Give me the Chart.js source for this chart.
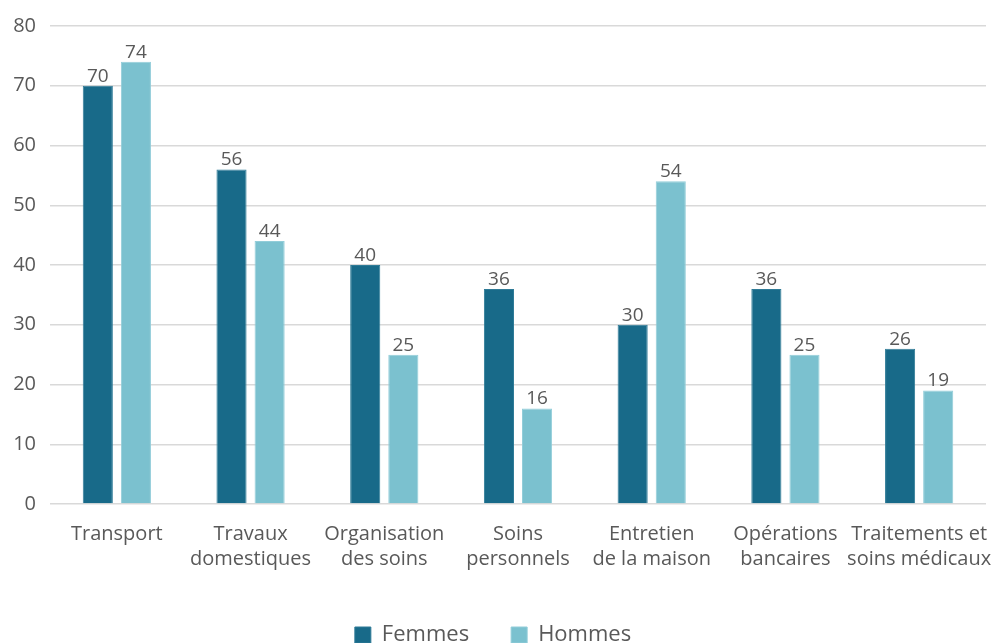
<!DOCTYPE html>
<html lang="fr">
<head>
<meta charset="utf-8">
<title>Tâches par sexe</title>
<script src="https://cdn.jsdelivr.net/npm/chart.js@4/dist/chart.umd.min.js"></script>
<style>
  html, body { margin: 0; padding: 0; background: #ffffff; overflow: hidden; }
  #wrap { position: relative; width: 1000px; height: 656px; }
</style>
</head>
<body>
<div id="wrap"><canvas id="chart"></canvas></div>
<script>
// Catégories (libellés sur deux lignes)
const categories = [
  ["Transport"],
  ["Travaux", "domestiques"],
  ["Organisation", "des soins"],
  ["Soins", "personnels"],
  ["Entretien", "de la maison"],
  ["Opérations", "bancaires"],
  ["Traitements et", "soins médicaux"]
];
const femmes = [70, 56, 40, 36, 30, 36, 26];
const hommes = [74, 44, 25, 16, 54, 25, 19];
const yTicks = [0, 10, 20, 30, 40, 50, 60, 70, 80];

const FONT = "'Open Sans', 'Noto Sans', sans-serif";
const TEXT = "#595959";

// Étiquettes de valeur au-dessus des barres
const valueLabels = {
  id: "valueLabels",
  afterDatasetsDraw(chart) {
    const ctx = chart.ctx;
    ctx.save();
    ctx.font = "19px " + FONT;
    ctx.fillStyle = TEXT;
    ctx.textAlign = "center";
    ctx.textBaseline = "bottom";
    chart.data.datasets.forEach((ds, i) => {
      chart.getDatasetMeta(i).data.forEach((bar, j) => {
        ctx.fillText(String(ds.data[j]), bar.x, bar.y);
      });
    });
    ctx.restore();
  }
};

new Chart(document.getElementById("chart"), {
  type: "bar",
  data: {
    labels: categories,
    datasets: [
      { label: "Femmes", data: femmes, backgroundColor: "#186a89", borderColor: "#2f7b97", borderWidth: 1 },
      { label: "Hommes", data: hommes, backgroundColor: "#7bc1cf", borderColor: "#92cdd9", borderWidth: 1 }
    ]
  },
  options: {
    responsive: true,
    maintainAspectRatio: false,
    animation: false,
    categoryPercentage: 0.57,
    barPercentage: 0.79,
    layout: { padding: { top: 11, right: 14, left: 0, bottom: 0 } },
    plugins: {
      legend: {
        position: "bottom",
        labels: {
          boxWidth: 16,
          boxHeight: 16,
          padding: 42,
          color: TEXT,
          font: { family: FONT, size: 22 }
        }
      },
      tooltip: { enabled: false }
    },
    scales: {
      x: {
        // les libellés extrêmes peuvent déborder de la zone de tracé
        afterFit(scale) { scale.paddingLeft = 0; scale.paddingRight = 0; },
        grid: { display: false },
        border: { display: false },
        ticks: {
          color: TEXT,
          maxRotation: 0,
          autoSkip: false,
          padding: 10,
          font: { family: FONT, size: 20, lineHeight: 1.25 }
        }
      },
      y: {
        min: 0,
        max: 80,
        afterFit(scale) { scale.width = 50; },
        afterBuildTicks(scale) { scale.ticks = yTicks.map(v => ({ value: v })); },
        grid: { color: "#d9d9d9", lineWidth: 1.5, drawTicks: false },
        border: { display: false },
        ticks: {
          color: TEXT,
          padding: 14,
          font: { family: FONT, size: 20 }
        }
      }
    }
  },
  plugins: [valueLabels]
});
</script>
</body>
</html>
